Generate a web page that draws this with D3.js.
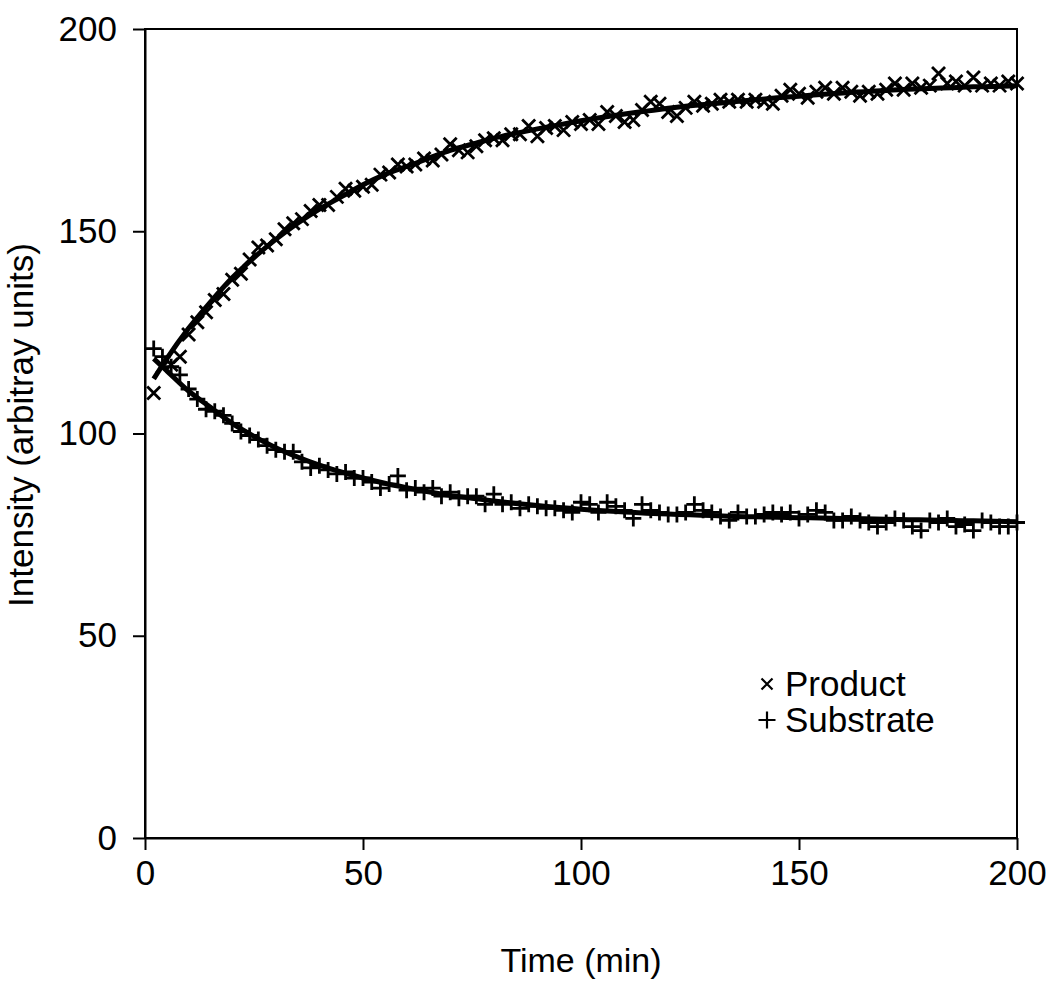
<!DOCTYPE html>
<html>
<head>
<meta charset="utf-8">
<script src="https://cdn.jsdelivr.net/npm/d3@7"></script>
<style>
  html, body { margin: 0; padding: 0; background: #fff; }
  svg { display: block; font-family: "Liberation Sans", Arial, sans-serif; }
</style>
</head>
<body>
<svg id="kineticsChart" width="1050" height="981"></svg>
<script>
// sampling times (min)
var times = [2, 4, 6, 8, 10, 12, 14, 16, 18, 20, 22, 24, 26, 28, 30, 32, 34, 36, 38, 40,
  42, 44, 46, 48, 50, 52, 54, 56, 58, 60, 62, 64, 66, 68, 70, 72, 74, 76, 78, 80,
  82, 84, 86, 88, 90, 92, 94, 96, 98, 100, 102, 104, 106, 108, 110, 112, 114, 116, 118, 120,
  122, 124, 126, 128, 130, 132, 134, 136, 138, 140, 142, 144, 146, 148, 150, 152, 154, 156, 158, 160,
  162, 164, 166, 168, 170, 172, 174, 176, 178, 180, 182, 184, 186, 188, 190, 192, 194, 196, 198, 200];

var productValues = [110, 116.5, 117, 119, 124.5, 127.5, 130, 133, 134.5, 138,
  139.5, 143, 146, 146.5, 148, 150.5, 152, 153, 155, 156.5,
  156.5, 158.5, 160.5, 160, 161, 161.5, 164, 164.5, 166.5, 166,
  166.5, 168, 167.5, 169, 171.5, 170, 169.5, 171, 172.5, 173,
  172.5, 174, 174, 176, 173.5, 175.5, 176, 175, 177, 176.5,
  177.5, 176.5, 179.5, 178.5, 177, 177.5, 180, 182, 181.5, 179.5,
  178.5, 180.5, 182, 181, 181.5, 182.5, 182, 182.5, 182, 182.5,
  182, 181.5, 183.5, 185, 184, 183, 184.5, 185.5, 184, 185.5,
  184.5, 183.5, 184.5, 184, 185, 186.5, 185, 186.5, 185.5, 186,
  189, 186.5, 187, 186, 188, 186, 186.5, 186, 187, 186.5];

var substrateValues = [121, 119, 116.5, 114.5, 111, 108.5, 106, 105.5, 104.5, 102.5,
  100.5, 99.5, 98.5, 97, 96, 95.5, 95.5, 93, 91.5, 92,
  91, 90, 90.5, 89, 89, 88, 86.5, 87.5, 89.5, 86,
  86.5, 85.5, 86.5, 84.5, 85.5, 84, 84.5, 84.5, 82.5, 85,
  82.5, 83, 81.5, 82.5, 82, 81.5, 81.5, 81, 80.5, 83,
  82.5, 80.5, 83, 82, 81, 79, 82.5, 81, 80.5, 80,
  80, 80.5, 82.5, 81, 80.5, 79.5, 78.5, 80.5, 79.5, 79.5,
  80, 80.5, 80, 80.5, 79, 80, 81, 80.5, 78.5, 78.5,
  79.5, 78.5, 78, 77, 78, 79, 78.5, 77, 76, 78.5,
  78, 79, 77, 77.5, 76, 78.5, 78, 77, 77, 78];

// fitted curves
var fitTimes = [2, 5, 10, 15, 20, 25, 30, 35, 40, 45, 50, 55, 60, 65, 70, 75, 80, 85, 90, 95,
  100, 105, 110, 115, 120, 125, 130, 135, 140, 145, 150, 155, 160, 165, 170, 175, 180, 185, 190, 195, 200];
var productFit = [113.5, 118.5, 126, 132.5, 138.5, 143.5, 148, 152, 155.5, 158.5,
  161.5, 164, 166, 168, 170, 171.5, 173, 174.2, 175.3, 176.3,
  177.3, 178.2, 179, 179.7, 180.4, 181, 181.5, 182, 182.5, 183,
  183.4, 183.8, 184.2, 184.5, 184.8, 185.1, 185.3, 185.5, 185.7, 185.8, 186];
var substrateFit = [118.5, 115.5, 110.5, 106.5, 102.5, 99.3, 96.5, 94.2, 92.2, 90.5,
  89, 87.7, 86.6, 85.6, 84.7, 84, 83.3, 82.7, 82.2, 81.7,
  81.3, 80.9, 80.6, 80.3, 80.1, 79.9, 79.7, 79.5, 79.4, 79.3,
  79.2, 79.1, 79, 78.9, 78.8, 78.7, 78.6, 78.5, 78.4, 78.3, 78.2];

var xTicks = [0, 50, 100, 150, 200];
var yTicks = [0, 50, 100, 150, 200];
var legendLabels = ["Product", "Substrate"];

var width = 1050;
var height = 981;
var margin = { top: 29, right: 33, bottom: 143, left: 145 };

var x = d3.scaleLinear()
  .domain([0, 200])
  .range([margin.left, width - margin.right]);

var y = d3.scaleLinear()
  .domain([0, 200])
  .range([height - margin.bottom, margin.top]);

var svg = d3.select("#kineticsChart");

// frame
svg.append("rect")
  .attr("x", x(0))
  .attr("y", y(200))
  .attr("width", x(200) - x(0))
  .attr("height", y(0) - y(200))
  .attr("fill", "none")
  .attr("stroke", "#000")
  .attr("stroke-width", 2);

var xAxis = function (g) {
  g.attr("transform", "translate(0," + y(0) + ")")
    .call(d3.axisBottom(x).tickValues(xTicks).tickSize(12).tickPadding(10).tickSizeOuter(0));
  g.select(".domain").attr("stroke-width", 2);
  g.selectAll(".tick line").attr("stroke-width", 2);
  g.selectAll(".tick text")
    .attr("font-size", "35px")
    .attr("fill", "#000");
};

var yAxis = function (g) {
  g.attr("transform", "translate(" + x(0) + ",0)")
    .call(d3.axisLeft(y).tickValues(yTicks).tickSize(12).tickPadding(16).tickSizeOuter(0));
  g.select(".domain").attr("stroke-width", 2);
  g.selectAll(".tick line").attr("stroke-width", 2);
  g.selectAll(".tick text")
    .attr("font-size", "35px")
    .attr("fill", "#000");
};

svg.append("g").attr("font-family", null).call(xAxis);
svg.append("g").attr("font-family", null).call(yAxis);

// axis titles
svg.append("text")
  .attr("x", (x(0) + x(200)) / 2)
  .attr("y", 972)
  .attr("text-anchor", "middle")
  .attr("font-size", "34px")
  .text("Time (min)");

svg.append("text")
  .attr("transform", "translate(33," + 425 + ") rotate(-90)")
  .attr("text-anchor", "middle")
  .attr("font-size", "35px")
  .text("Intensity (arbitray units)");

var productPoints = times.map(function (t, i) { return [t, productValues[i]]; });
var substratePoints = times.map(function (t, i) { return [t, substrateValues[i]]; });

var crossPath = function (s) {
  return "M" + (-s) + "," + (-s) + "L" + s + "," + s + "M" + (-s) + "," + s + "L" + s + "," + (-s);
};
var plusPath = function (s) {
  return "M" + (-s) + ",0L" + s + ",0M0," + (-s) + "L0," + s;
};

// markers
svg.append("g")
  .attr("stroke", "#000")
  .attr("stroke-width", 2.8)
  .attr("fill", "none")
  .selectAll("path")
  .data(substratePoints)
  .join("path")
  .attr("transform", function (d) { return "translate(" + x(d[0]) + "," + y(d[1]) + ")"; })
  .attr("d", plusPath(8));

svg.append("g")
  .attr("stroke", "#000")
  .attr("stroke-width", 2.8)
  .attr("fill", "none")
  .selectAll("path")
  .data(productPoints)
  .join("path")
  .attr("transform", function (d) { return "translate(" + x(d[0]) + "," + y(d[1]) + ")"; })
  .attr("d", crossPath(6.5));

// fitted lines
var line = d3.line()
  .x(function (d) { return x(d[0]); })
  .y(function (d) { return y(d[1]); })
  .curve(d3.curveMonotoneX);

svg.append("path")
  .datum(fitTimes.map(function (t, i) { return [t, productFit[i]]; }))
  .attr("fill", "none")
  .attr("stroke", "#000")
  .attr("stroke-width", 5)
  .attr("d", line);

svg.append("path")
  .datum(fitTimes.map(function (t, i) { return [t, substrateFit[i]]; }))
  .attr("fill", "none")
  .attr("stroke", "#000")
  .attr("stroke-width", 5)
  .attr("d", line);

// legend
var legend = svg.append("g")
  .attr("transform", "translate(767,684)");

legend.selectAll("text")
  .data(legendLabels)
  .join("text")
  .attr("x", 18)
  .attr("y", function (d, i) { return i * 36 + 12; })
  .attr("font-size", "35px")
  .text(function (d) { return d; });

legend.append("path")
  .attr("d", crossPath(5.5))
  .attr("stroke", "#000")
  .attr("stroke-width", 2.2);

legend.append("path")
  .attr("transform", "translate(0,36)")
  .attr("d", plusPath(8.5))
  .attr("stroke", "#000")
  .attr("stroke-width", 2.2);
</script>
</body>
</html>
